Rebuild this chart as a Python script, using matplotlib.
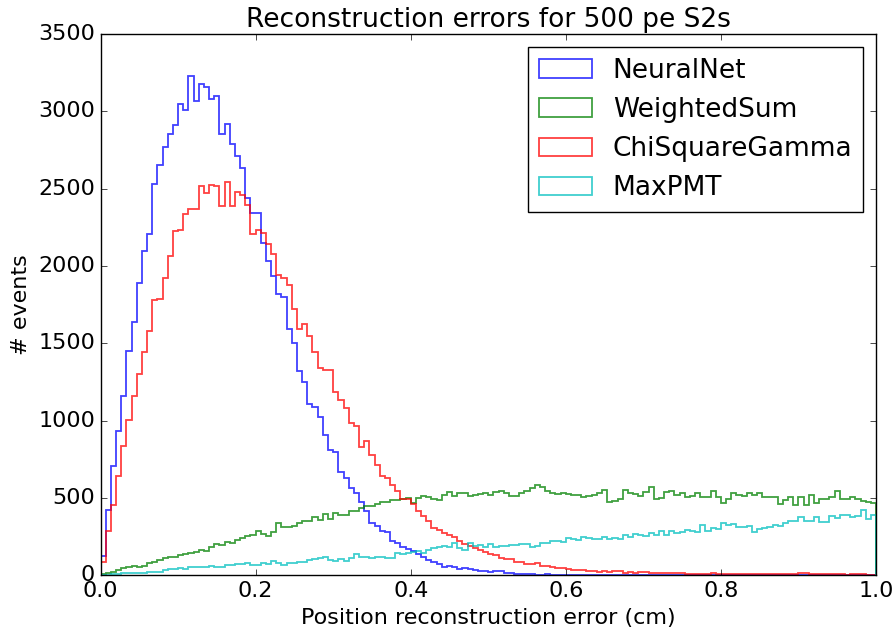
import numpy as np
import matplotlib
matplotlib.use("Agg")
import matplotlib.pyplot as plt

# 150 bins between 0 and 1 cm, counts
bin_edges = np.linspace(0.0, 1.0, 151)

neuralnet = [129, 426, 710, 935, 1163, 1451, 1636, 1888, 2096, 2206,
             2533, 2651, 2769, 2855, 2909, 3049, 3010, 3231, 3070, 3178,
             3156, 3081, 3098, 2851, 2920, 2786, 2712, 2632, 2440, 2345,
             2340, 2148, 2035, 1935, 1817, 1800, 1594, 1500, 1323, 1250,
             1108, 1088, 1023, 907, 814, 796, 672, 629, 567, 532,
             476, 420, 340, 319, 290, 278, 220, 210, 186, 168,
             156, 141, 121, 103, 90, 77, 55, 63, 52, 44,
             47, 40, 36, 32, 28, 25, 30, 28, 16, 14,
             11, 10, 8, 7, 6, 6, 8, 4, 3, 3,
             2, 2, 1, 2, 1, 1, 0, 1, 0, 0,
             1, 0, 0, 1, 0, 0, 0, 0, 1, 0,
             0, 0, 0, 0, 0, 0, 0, 0, 0, 0,
             0, 0, 0, 0, 0, 0, 0, 0, 0, 0,
             0, 0, 0, 0, 0, 0, 0, 0, 0, 0,
             0, 0, 0, 0, 0, 0, 0, 0, 0, 0]

weightedsum = [10, 18, 25, 36, 46, 57, 61, 53, 61, 83,
               89, 100, 111, 117, 122, 132, 139, 148, 150, 165,
               160, 186, 204, 197, 219, 208, 229, 240, 255, 262,
               290, 268, 255, 283, 341, 311, 316, 318, 336, 350,
               352, 380, 360, 400, 366, 405, 390, 394, 420, 420,
               433, 446, 449, 465, 473, 478, 487, 486, 494, 498,
               470, 500, 513, 508, 492, 489, 523, 537, 513, 535,
               530, 515, 521, 528, 535, 520, 540, 548, 531, 514,
               514, 530, 548, 563, 585, 570, 545, 530, 527, 531,
               528, 520, 518, 510, 512, 520, 530, 553, 477, 480,
               492, 550, 531, 525, 514, 540, 574, 497, 500, 540,
               548, 520, 535, 510, 515, 535, 510, 505, 548, 510,
               467, 497, 531, 520, 514, 535, 520, 535, 510, 505,
               508, 462, 488, 510, 456, 510, 456, 520, 467, 497,
               492, 505, 548, 497, 492, 510, 492, 484, 477, 467]

chisquaregamma = [86, 286, 458, 641, 834, 1002, 1161, 1303, 1447, 1582,
                  1780, 1784, 1920, 2064, 2227, 2236, 2335, 2369, 2370, 2516,
                  2475, 2521, 2518, 2390, 2545, 2390, 2481, 2458, 2393, 2205,
                  2233, 2211, 2140, 2075, 1945, 1925, 1877, 1723, 1594, 1624,
                  1548, 1447, 1339, 1328, 1328, 1183, 1135, 1081, 985, 963,
                  830, 866, 776, 715, 640, 629, 583, 543, 495, 494,
                  462, 419, 386, 354, 306, 295, 276, 263, 247, 225,
                  204, 188, 177, 163, 153, 142, 131, 111, 104, 104,
                  89, 89, 74, 74, 79, 61, 61, 57, 50, 46,
                  40, 38, 36, 36, 30, 29, 25, 26, 24, 31,
                  28, 18, 20, 17, 23, 22, 18, 17, 19, 15,
                  14, 13, 14, 10, 11, 9, 10, 11, 18, 9,
                  8, 7, 9, 8, 10, 11, 9, 10, 8, 9,
                  7, 8, 9, 7, 8, 13, 14, 12, 8, 7,
                  9, 8, 7, 8, 6, 9, 7, 8, 6, 5]

maxpmt = [3, 5, 8, 10, 13, 14, 16, 18, 18, 20,
          25, 24, 36, 40, 40, 46, 44, 53, 52, 57,
          55, 61, 58, 57, 68, 66, 74, 72, 83, 68,
          70, 79, 74, 96, 83, 68, 79, 83, 89, 87,
          100, 104, 111, 117, 100, 96, 104, 96, 111, 139,
          122, 117, 115, 122, 117, 111, 115, 148, 139, 148,
          154, 160, 148, 165, 176, 182, 191, 186, 212, 176,
          165, 208, 191, 197, 186, 204, 182, 191, 191, 197,
          197, 204, 204, 182, 190, 208, 212, 225, 225, 219,
          240, 235, 229, 247, 240, 234, 238, 251, 236, 240,
          234, 262, 251, 268, 260, 255, 277, 262, 290, 262,
          290, 273, 283, 294, 290, 283, 326, 290, 305, 298,
          337, 326, 330, 315, 315, 320, 283, 300, 305, 315,
          326, 320, 337, 354, 354, 380, 354, 354, 380, 348,
          348, 384, 369, 391, 391, 376, 384, 423, 363, 391]

labels = ["NeuralNet", "WeightedSum", "ChiSquareGamma", "MaxPMT"]
colors = ["b", "g", "r", "c"]
series = [neuralnet, weightedsum, chisquaregamma, maxpmt]

plt.style.use("classic")
plt.rcParams["figure.facecolor"] = "white"
plt.rcParams["savefig.facecolor"] = "white"

fig = plt.figure(figsize=(8.95, 6.34), dpi=100)
ax = fig.add_axes([0.1123, 0.0923, 0.8665, 0.8541])

centers = 0.5 * (bin_edges[:-1] + bin_edges[1:])
for counts, lab, col in zip(series, labels, colors):
    ax.hist(centers, bins=bin_edges, weights=counts, histtype="step",
            color=col, alpha=0.75, linewidth=1.3, label=lab)

ax.set_xlim(0, 1)
ax.set_ylim(0, 3500)
ax.set_title("Reconstruction errors for 500 pe S2s", fontsize=19)
ax.set_xlabel("Position reconstruction error (cm)", fontsize=16)
ax.set_ylabel("# events", fontsize=16)
ax.tick_params(labelsize=16)
ax.legend(loc="upper right", fontsize=19)

fig.savefig("out.png", dpi=100)
